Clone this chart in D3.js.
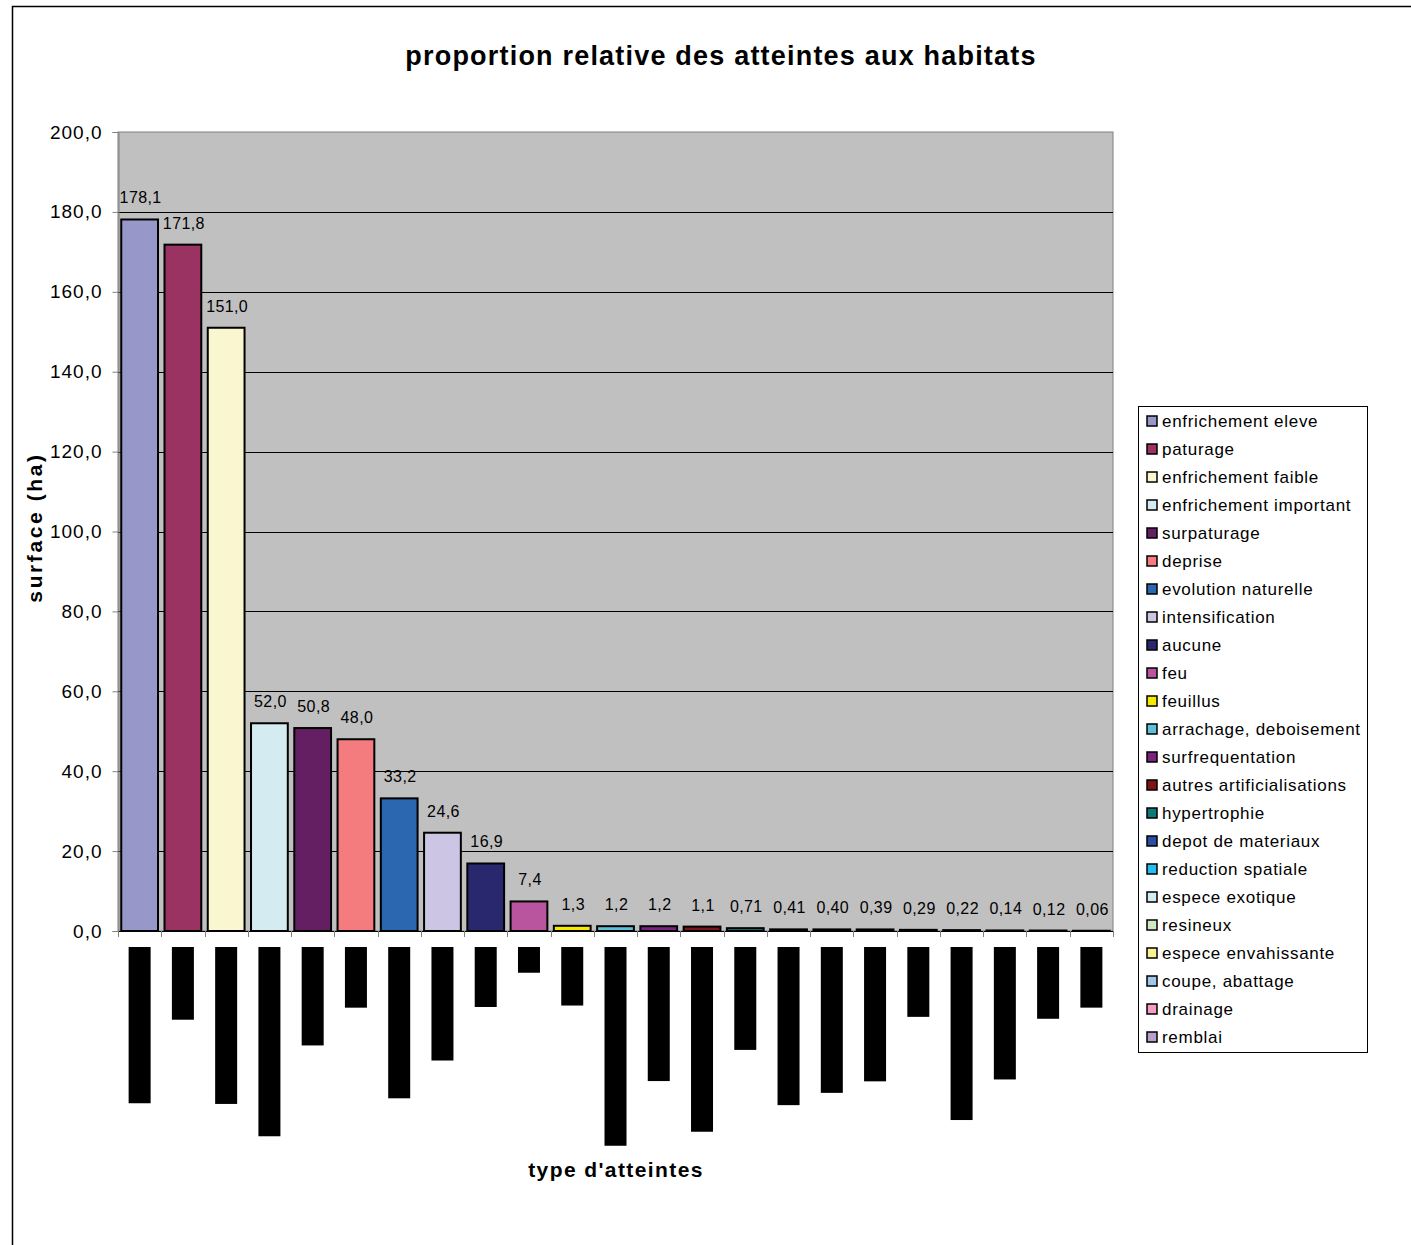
<!DOCTYPE html>
<html>
<head>
<meta charset="utf-8">
<script src="https://cdn.jsdelivr.net/npm/d3@7"></script>
<style>
  body { margin: 0; background: #fff; }
  svg { display: block; font-family: "Liberation Sans", Arial, sans-serif; }
</style>
</head>
<body>
<div class="chart"></div>
<script>
/* data */
var categories = ["enfrichement eleve", "paturage", "enfrichement faible", "enfrichement important",
  "surpaturage", "deprise", "evolution naturelle", "intensification", "aucune", "feu", "feuillus",
  "arrachage, deboisement", "surfrequentation", "autres artificialisations", "hypertrophie",
  "depot de materiaux", "reduction spatiale", "espece exotique", "resineux", "espece envahissante",
  "coupe, abattage", "drainage", "remblai"];
var values = [178.1, 171.8, 151.0, 52.0, 50.8, 48.0, 33.2, 24.6, 16.9, 7.4, 1.3,
  1.2, 1.2, 1.1, 0.71, 0.41, 0.40, 0.39, 0.29, 0.22, 0.14, 0.12, 0.06];
var colors = ["#9797CA", "#9A3262", "#FAF7D0", "#D4EBF2", "#631F61", "#F47C7E", "#2B66B0",
  "#CCC6E4", "#29286F", "#B9549F", "#F6E900", "#5FC0D8", "#7A237E", "#7C1518", "#0B7A78",
  "#294DA0", "#26BCEE", "#D3ECF4", "#D2E8C3", "#FAF291", "#A0C6E8", "#F59CC4", "#B8A0CC"];
var yTicks = [0, 20, 40, 60, 80, 100, 120, 140, 160, 180, 200];

var W = 1411, H = 1245;
var plot = { left: 118, top: 132, right: 1113, bottom: 931 };

var svg = d3.select(".chart").append("svg")
  .attr("width", W)
  .attr("height", H);

// outer frame (right and bottom edges fall outside the picture)
svg.append("rect")
  .attr("x", 12.5).attr("y", 6.5)
  .attr("width", W).attr("height", H)
  .attr("fill", "#fff")
  .attr("stroke", "#000").attr("stroke-width", 1.5);

var xScale = d3.scaleBand()
  .domain(categories)
  .range([plot.left, plot.right])
  .paddingInner(0.15)
  .paddingOuter(0.075);

var yScale = d3.scaleLinear()
  .domain([0, 200])
  .range([plot.bottom, plot.top]);

// plot background
svg.append("rect")
  .attr("x", plot.left).attr("y", plot.top)
  .attr("width", plot.right - plot.left)
  .attr("height", plot.bottom - plot.top)
  .attr("fill", "#C0C0C0")
  .attr("stroke", "#808080");

// gridlines
svg.append("g")
  .selectAll("line")
  .data(yTicks.slice(1, -1))
  .enter().append("line")
  .attr("x1", plot.left).attr("x2", plot.right)
  .attr("y1", function(d) { return Math.round(yScale(d)) + 0.5; })
  .attr("y2", function(d) { return Math.round(yScale(d)) + 0.5; })
  .attr("stroke", "#000");

// y axis
var yAxis = svg.append("g")
  .attr("transform", "translate(" + (plot.left + 0.5) + ",0)")
  .call(d3.axisLeft(yScale).tickValues(yTicks).tickSize(6).tickPadding(10)
    .tickFormat(function(d) { return d3.format(".1f")(d).replace(".", ","); }));
yAxis.select(".domain").attr("stroke", "#808080");
yAxis.selectAll(".tick line").attr("stroke", "#808080");
yAxis.selectAll("text")
  .attr("font-size", 19)
  .attr("letter-spacing", 1)
  .attr("font-family", "Liberation Sans, Arial, sans-serif")
  .attr("fill", "#000");

// x axis ticks at category boundaries
var bounds = d3.range(categories.length + 1).map(function(i) {
  return plot.left + i * (plot.right - plot.left) / categories.length;
});
svg.append("line")
  .attr("x1", plot.left).attr("x2", plot.right)
  .attr("y1", plot.bottom + 0.5).attr("y2", plot.bottom + 0.5)
  .attr("stroke", "#000");
svg.append("g")
  .selectAll("line")
  .data(bounds)
  .enter().append("line")
  .attr("x1", function(d) { return Math.round(d) + 0.5; })
  .attr("x2", function(d) { return Math.round(d) + 0.5; })
  .attr("y1", plot.bottom).attr("y2", plot.bottom + 6)
  .attr("stroke", "#808080");

// bars
svg.append("g")
  .selectAll("rect")
  .data(values)
  .enter().append("rect")
  .attr("x", function(d, i) { return xScale(categories[i]); })
  .attr("y", function(d) { return yScale(d); })
  .attr("width", xScale.bandwidth())
  .attr("height", function(d) { return yScale(0) - yScale(d); })
  .attr("fill", function(d, i) { return colors[i]; })
  .attr("stroke", "#000")
  .attr("stroke-width", 2);

// value labels
function fmt(d) {
  return (d >= 1 ? d3.format(".1f")(d) : d3.format(".2f")(d)).replace(".", ",");
}
svg.append("g")
  .selectAll("text")
  .data(values)
  .enter().append("text")
  .attr("x", function(d, i) { return xScale(categories[i]) + xScale.bandwidth() / 2 + 1; })
  .attr("y", function(d) { return yScale(d) - 16; })
  .attr("text-anchor", "middle")
  .attr("font-size", 16)
  .attr("letter-spacing", 0.4)
  .attr("fill", "#000")
  .text(fmt);

// category labels: in the picture they are rendered as solid black blocks
var catG = svg.append("g");
categories.forEach(function(c) {
  var cx = xScale(c) + xScale.bandwidth() / 2;
  var g = catG.append("g")
    .attr("transform", "translate(" + cx + "," + (plot.bottom + 16) + ") rotate(90)");
  var t = g.append("text")
    .attr("x", 0).attr("y", 0)
    .attr("dy", "0.35em")
    .attr("font-size", 17)
    .attr("letter-spacing", 0.7)
    .attr("fill", "#000")
    .text(c);
  var len = t.node().getComputedTextLength();
  g.insert("rect", "text")
    .attr("x", 0).attr("y", -11)
    .attr("width", len).attr("height", 22)
    .attr("fill", "#000");
});

// title
svg.append("text")
  .attr("x", 721).attr("y", 65)
  .attr("text-anchor", "middle")
  .attr("font-size", 27)
  .attr("font-weight", "bold")
  .attr("letter-spacing", 1.2)
  .text("proportion relative des atteintes aux habitats");

// axis titles
svg.append("text")
  .attr("transform", "translate(42," + ((plot.top + plot.bottom) / 2 - 4) + ") rotate(-90)")
  .attr("text-anchor", "middle")
  .attr("font-size", 21)
  .attr("font-weight", "bold")
  .attr("letter-spacing", 2.6)
  .text("surface (ha)");

svg.append("text")
  .attr("x", 616).attr("y", 1177)
  .attr("text-anchor", "middle")
  .attr("font-size", 21)
  .attr("font-weight", "bold")
  .attr("letter-spacing", 1.4)
  .text("type d'atteintes");

// legend
var legend = { x: 1138, y: 406, w: 229, h: 646, row: 28 };
svg.append("rect")
  .attr("x", legend.x + 0.5).attr("y", legend.y + 0.5)
  .attr("width", legend.w).attr("height", legend.h)
  .attr("fill", "#fff")
  .attr("stroke", "#000");

var item = svg.append("g")
  .selectAll("g")
  .data(categories)
  .enter().append("g")
  .attr("transform", function(d, i) {
    return "translate(" + (legend.x + 9) + "," + (legend.y + 15 + i * legend.row) + ")";
  });
item.append("rect")
  .attr("x", 0).attr("y", -5)
  .attr("width", 10).attr("height", 10)
  .attr("fill", function(d, i) { return colors[i]; })
  .attr("stroke", "#000")
  .attr("stroke-width", 1.5);
item.append("text")
  .attr("x", 15).attr("y", 0)
  .attr("dy", "0.35em")
  .attr("font-size", 17)
  .attr("letter-spacing", 0.7)
  .attr("fill", "#000")
  .text(function(d) { return d; });
</script>
</body>
</html>
